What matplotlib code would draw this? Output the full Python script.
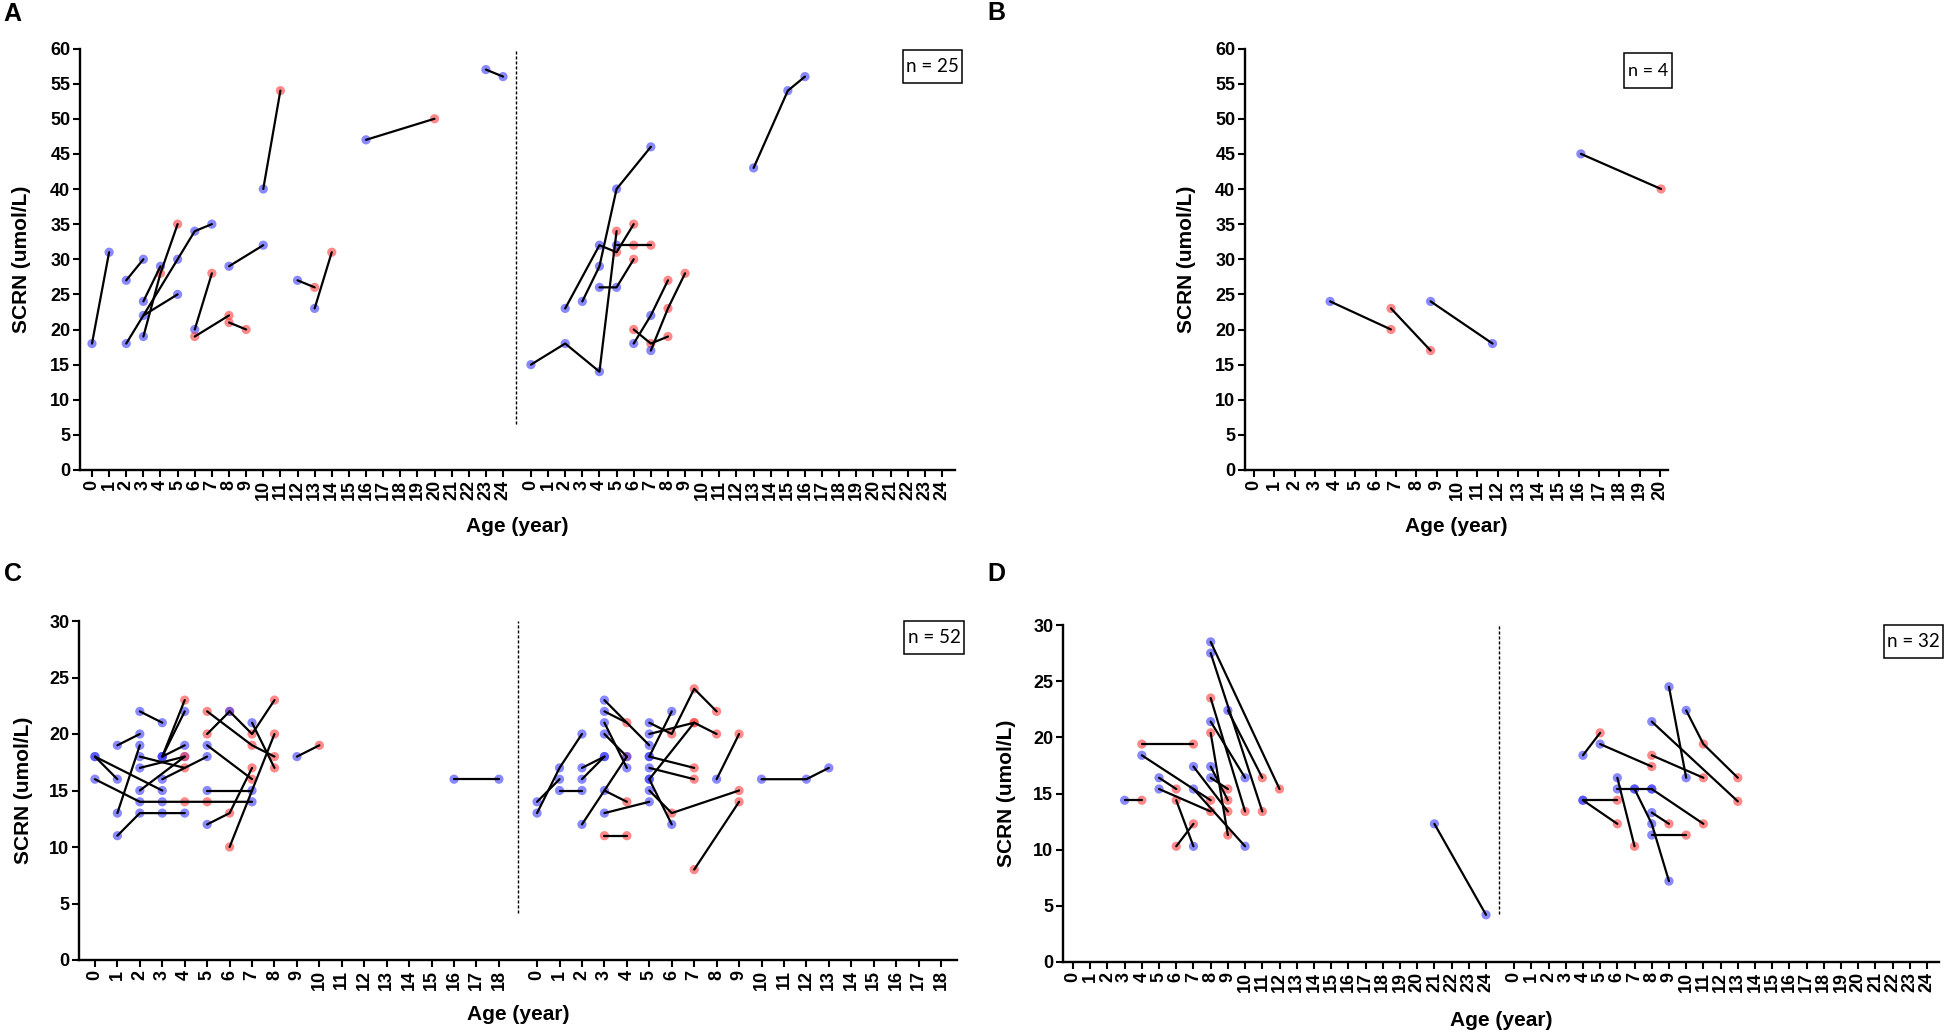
import matplotlib
matplotlib.use("Agg")
import matplotlib.pyplot as plt
from matplotlib.patches import Rectangle

plt.rcParams["font.family"] = ["Liberation Sans", "DejaVu Sans"]
plt.rcParams["font.weight"] = "bold"

# each path: list of (age in years, SCRN umol/L, group); group 1 = blue, 2 = red
A_LEFT = [
    [(0, 18, 1), (1, 31, 1)],
    [(2, 27, 1), (3, 30, 1)],
    [(2, 18, 1), (5, 30, 1), (6, 34, 1), (7, 35, 1)],
    [(3, 19, 1), (4, 28, 2), (5, 35, 2)],
    [(3, 24, 1), (4, 29, 1)],
    [(3, 22, 1), (5, 25, 1)],
    [(6, 20, 1), (7, 28, 2)],
    [(6, 19, 2), (8, 22, 2)],
    [(8, 21, 2), (9, 20, 2)],
    [(8, 29, 1), (10, 32, 1)],
    [(10, 40, 1), (11, 54, 2)],
    [(12, 27, 1), (13, 26, 2)],
    [(13, 23, 1), (14, 31, 2)],
    [(16, 47, 1), (20, 50, 2)],
    [(23, 57, 1), (24, 56, 1)],
]
A_RIGHT = [
    [(0, 15, 1), (2, 18, 1), (4, 14, 1), (5, 34, 2)],
    [(3, 24, 1), (4, 29, 1), (5, 40, 1), (7, 46, 1)],
    [(2, 23, 1), (4, 32, 1), (5, 31, 2), (6, 35, 2)],
    [(5, 32, 1), (6, 32, 2), (7, 32, 2)],
    [(4, 26, 1), (5, 26, 1), (6, 30, 2)],
    [(6, 18, 1), (7, 22, 1), (8, 27, 2)],
    [(6, 20, 2), (7, 18, 2), (8, 19, 2)],
    [(7, 17, 1), (8, 23, 2), (9, 28, 2)],
    [(13, 43, 1), (15, 54, 1), (16, 56, 1)],
]
B_DATA = [
    [(3.75, 24, 1), (6.75, 20, 2)],
    [(6.75, 23, 2), (8.7, 17, 2)],
    [(8.7, 24, 1), (11.75, 18, 1)],
    [(16.1, 45, 1), (20.05, 40, 2)],
]
C_LEFT = [
    [(0, 18, 1), (1, 16, 1)],
    [(0, 18, 1), (3, 15, 1)],
    [(0, 16, 1), (2, 14, 1), (3, 14, 1), (4, 14, 2), (5, 14, 2), (7, 14, 1)],
    [(1, 19, 1), (2, 20, 1)],
    [(1, 13, 1), (2, 19, 1)],
    [(1, 11, 1), (2, 13, 1), (3, 13, 1), (4, 13, 1)],
    [(2, 22, 1), (3, 21, 1)],
    [(2, 18, 1), (4, 17, 2)],
    [(2, 17, 1), (4, 18, 1)],
    [(2, 15, 1), (4, 18, 2)],
    [(3, 16, 1), (5, 18, 1)],
    [(3, 18, 1), (4, 23, 2)],
    [(3, 18, 1), (4, 22, 1)],
    [(3, 18, 1), (4, 19, 1)],
    [(5, 22, 2), (7, 19, 2), (8, 18, 2)],
    [(5, 20, 2), (6, 22, 2)],
    [(6, 22, 1), (7, 20, 2), (8, 23, 2)],
    [(7, 21, 1), (8, 17, 2)],
    [(5, 19, 1), (7, 16, 2)],
    [(5, 15, 1), (7, 15, 1)],
    [(5, 12, 1), (6, 13, 2), (7, 17, 2)],
    [(6, 10, 2), (8, 20, 2)],
    [(9, 18, 1), (10, 19, 2)],
    [(16, 16, 1), (18, 16, 1)],
]
C_RIGHT = [
    [(0, 13, 1), (1, 17, 1), (2, 20, 1)],
    [(0, 14, 1), (1, 16, 1)],
    [(1, 15, 1), (2, 15, 1)],
    [(2, 17, 1), (3, 18, 1)],
    [(2, 16, 1), (3, 18, 1)],
    [(2, 12, 1), (4, 18, 2)],
    [(3, 23, 1), (5, 19, 1)],
    [(3, 22, 1), (4, 21, 2)],
    [(3, 21, 1), (4, 17, 1)],
    [(3, 20, 1), (4, 18, 1)],
    [(3, 15, 1), (4, 14, 2)],
    [(3, 13, 1), (5, 14, 1)],
    [(3, 11, 2), (4, 11, 2)],
    [(5, 21, 1), (6, 20, 2), (7, 24, 2), (8, 22, 2)],
    [(5, 20, 1), (7, 21, 2), (8, 20, 2)],
    [(5, 18, 1), (6, 22, 1)],
    [(5, 18, 1), (7, 17, 2)],
    [(5, 17, 1), (7, 16, 2)],
    [(5, 16, 1), (7, 21, 2)],
    [(5, 16, 1), (6, 12, 1)],
    [(5, 15, 1), (6, 13, 2), (9, 15, 2)],
    [(7, 8, 2), (9, 14, 2)],
    [(8, 16, 1), (9, 20, 2)],
    [(10, 16, 1), (12, 16, 1), (13, 17, 1)],
]
D_LEFT = [
    [(3, 14.4, 1), (4, 14.4, 2)],
    [(4, 19.4, 2), (7, 19.4, 2)],
    [(4, 18.4, 1), (8, 14.4, 2)],
    [(5, 16.4, 1), (6, 15.4, 2)],
    [(5, 15.4, 1), (8, 13.4, 2)],
    [(6, 14.4, 2), (7, 10.3, 1)],
    [(6, 10.3, 2), (7, 12.3, 2)],
    [(7, 17.4, 1), (9, 13.4, 2)],
    [(7, 15.4, 1), (10, 10.3, 1)],
    [(8, 28.5, 1), (12, 15.4, 2)],
    [(8, 27.5, 1), (11, 13.4, 2)],
    [(9, 22.4, 1), (11, 16.4, 2)],
    [(8, 23.5, 2), (10, 13.4, 2)],
    [(8, 21.4, 1), (10, 16.4, 1)],
    [(8, 20.4, 2), (9, 11.3, 2)],
    [(8, 17.4, 1), (9, 14.4, 2)],
    [(8, 16.4, 1), (9, 15.4, 2)],
    [(21, 12.3, 1), (24, 4.2, 1)],
]
D_RIGHT = [
    [(4, 18.4, 1), (5, 20.4, 2)],
    [(5, 19.4, 1), (8, 17.4, 2)],
    [(4, 14.4, 1), (6, 14.4, 2)],
    [(4, 14.4, 1), (6, 12.3, 2)],
    [(6, 16.4, 1), (7, 10.3, 2)],
    [(6, 15.4, 1), (7, 15.4, 1), (8, 15.4, 1)],
    [(7, 15.4, 1), (8, 12.3, 1), (9, 7.2, 1)],
    [(8, 15.4, 1), (11, 12.3, 2)],
    [(8, 13.3, 1), (9, 12.3, 2)],
    [(8, 11.3, 1), (10, 11.3, 2)],
    [(8, 21.4, 1), (13, 14.3, 2)],
    [(8, 18.4, 2), (11, 16.4, 2)],
    [(9, 24.5, 1), (10, 16.4, 1)],
    [(10, 22.4, 1), (11, 19.4, 2), (13, 16.4, 2)],
]
N_LABELS = {"A": 25, "B": 4, "C": 52, "D": 32}

GROUP_COLORS = {1: "#3a3aff", 2: "#ff3a3a"}

W, H = 1946, 1035
fig = plt.figure(figsize=(W / 100, H / 100), dpi=100)


def add_axes(left, top, right, bottom):
    return fig.add_axes([left / W, 1 - bottom / H, (right - left) / W, (bottom - top) / H])


def draw(ax, paths, offset=0.0):
    for path in paths:
        xs = [a + offset for a, v, g in path]
        ys = [v for a, v, g in path]
        cs = [GROUP_COLORS[g] for a, v, g in path]
        ax.scatter(xs, ys, s=44, c=cs, alpha=0.6, linewidths=0, zorder=2, clip_on=False)
        ax.plot(xs, ys, color="black", lw=1.6, zorder=3, solid_capstyle="round", clip_on=False)


def style(ax, xlim, ymax, n_ages, offset=None):
    ax.set_xlim(*xlim)
    ax.set_ylim(0, ymax)
    ax.spines[["top", "right"]].set_visible(False)
    for s in ("left", "bottom"):
        ax.spines[s].set_linewidth(1.7)
    ax.set_yticks(range(0, ymax + 1, 5))
    ticks = list(range(n_ages + 1))
    labels = [str(t) for t in ticks]
    if offset is not None:
        ticks = ticks + [offset + t for t in range(n_ages + 1)]
        labels = labels * 2
    ax.set_xticks(ticks)
    ax.set_xticklabels(labels, rotation=90)
    ax.tick_params(length=5, width=1.5, labelsize=13, pad=2)


def divider(ax, x, lo, hi):
    ax.plot([x, x], [lo, hi], color="black", lw=1.0, ls=(0, (2.2, 1.4)), zorder=1)


def ftext(x, y, s, **kw):
    return fig.text(x / W, 1 - y / H, s, ha="center", va="center", **kw)


def nbox(left, top, width, height, text, size=13.5):
    fig.patches.append(Rectangle((left / W, 1 - (top + height) / H), width / W, height / H,
                                 transform=fig.transFigure, fill=False, lw=1.1, ec="black"))
    ftext(left + width / 2, top + height / 2, text, fontsize=size, fontweight="normal",
          family="Lato")


# Panel A
axA = add_axes(80, 48.5, 955, 470)
style(axA, (-0.70, 50.39), 60, 24, offset=25.63)
draw(axA, A_LEFT)
draw(axA, A_RIGHT, 25.63)
divider(axA, 24.78, 6.5, 60)

# Panel B
axB = add_axes(1245, 48.5, 1668, 470)
style(axB, (-0.44, 20.39), 60, 20)
draw(axB, B_DATA)

# Panel C
axC = add_axes(79, 621, 957, 960)
style(axC, (-0.71, 38.41), 30, 18, offset=19.70)
draw(axC, C_LEFT)
draw(axC, C_RIGHT, 19.70)
divider(axC, 18.85, 4.2, 30)

# Panel D
axD = add_axes(1063, 625, 1939, 962)
style(axD, (-0.58, 50.32), 30, 24, offset=25.63)
draw(axD, D_LEFT)
draw(axD, D_RIGHT, 25.63)
divider(axD, 24.77, 4.3, 30)

# axis titles
for x, y in [(22, 259), (1187, 259), (24, 790), (1006, 793)]:
    ftext(x, y, "SCRN (umol/L)", rotation=90, fontsize=15, fontweight="bold")
for x, y in [(517, 527), (1456, 527), (518, 1015), (1501, 1020)]:
    ftext(x, y, "Age (year)", fontsize=15, fontweight="bold")

# panel letters
for x, y, s in [(12, 14, "A"), (996, 13, "B"), (13, 574, "C"), (996, 574, "D")]:
    ftext(x, y, s, fontsize=18, fontweight="bold")

nbox(903, 50, 59, 33, f"n = {N_LABELS['A']}")
nbox(1624, 53, 48, 35, f"n = {N_LABELS['B']}", size=13)
nbox(904, 621, 60, 33, f"n = {N_LABELS['C']}")
nbox(1884, 625, 59, 33, f"n = {N_LABELS['D']}")

fig.savefig("out.png", dpi=100)
